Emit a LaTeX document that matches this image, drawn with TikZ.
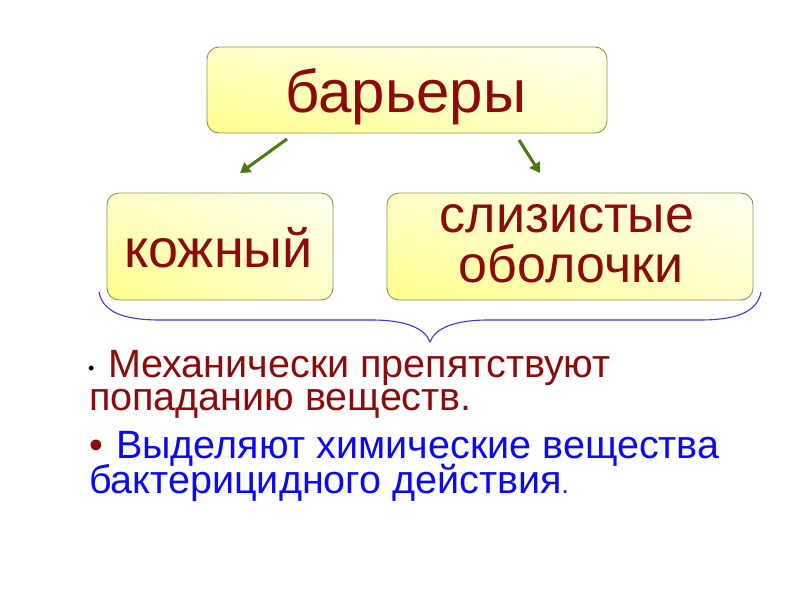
\documentclass[tikz,border=0pt]{standalone}
\usepackage{fontspec}
\setmainfont{Liberation Sans}
\usetikzlibrary{arrows.meta,shadings}
\definecolor{dred}{HTML}{8B0A0A}
\definecolor{bblue}{HTML}{0A0AF0}
\definecolor{agreen}{HTML}{4A7A12}
\definecolor{bordr}{HTML}{7F9A4E}
\definecolor{brace}{HTML}{3A3AC8}
\definecolor{ylo}{HTML}{FFFF8C}
\definecolor{ywh}{HTML}{FFFFF0}
\definecolor{ymid}{HTML}{FFFFC8}
\tikzset{
  box/.style={draw=bordr, line width=0.9pt, rounded corners=12pt,
    lower left=ylo, upper left=ymid, lower right=ymid, upper right=ywh,
    inner sep=0pt},
  boxtext/.style={text=dred, inner sep=0pt, anchor=base, align=center},
  arr/.style={draw=agreen, line width=3pt, -{Triangle[length=10pt,width=12pt]}},
  bodytext/.style={inner sep=0pt, anchor=base west, font=\fontsize{39.5}{39.5}\selectfont},
}
\begin{document}
\begin{tikzpicture}[x=1pt,y=-1pt]
\useasboundingbox[fill=white] (0,0) rectangle (800,600);
% boxes
\node[box, minimum width=400pt, minimum height=86pt] (top) at (407,90) {};
\node[box, minimum width=226pt, minimum height=107pt] (skin) at (220,246.5) {};
\node[box, minimum width=366pt, minimum height=107pt] (muc) at (570,246.5) {};
% box texts
\node[boxtext, font=\fontsize{60}{60}\selectfont] (ttop) at (406,112) {барьеры};
\node[boxtext, font=\fontsize{54}{54}\selectfont] (tskin) at (218.5,267) {кожный};
\node[boxtext, font=\fontsize{52}{52}\selectfont] (tmuc1) at (567,232) {слизистые};
\node[boxtext, font=\fontsize{52}{52}\selectfont] (tmuc2) at (571,282) {оболочки};
% arrows
\coordinate (a1s) at (287,139);
\coordinate (a1e) at (240,173);
\coordinate (a2s) at (519,140);
\coordinate (a2e) at (540,173);
\draw[arr] (a1s) -- (a1e);
\draw[arr] (a2s) -- (a2e);
% brace
\coordinate (bl) at (99,292);
\coordinate (bt) at (430,342);
\coordinate (br) at (761,292);
\draw[brace, line width=1.1pt]
  (bl) .. controls (103,314) and (128,320) .. (160,320) -- (372,320)
  .. controls (405,320) and (425,328) .. (bt)
  .. controls (435,328) and (455,320) .. (488,320) -- (700,320)
  .. controls (732,320) and (757,314) .. (br);
% body text
\node[bodytext, font=\fontsize{18}{18}\selectfont, text=black] (b1) at (88,374) {•};
\node[bodytext, text=dred] (l1) at (108,377) {Механически препятствуют};
\node[bodytext, text=dred] (l2) at (89,410) {попаданию веществ.};
\node[bodytext, text=dred] (b2) at (89,458) {•};
\node[bodytext, text=bblue] (l3) at (116,458) {Выделяют химические вещества};
\node[bodytext, text=bblue] (l4) at (89,493) {бактерицидного действия{\fontsize{26}{26}\selectfont.}};
\end{tikzpicture}
\end{document}
